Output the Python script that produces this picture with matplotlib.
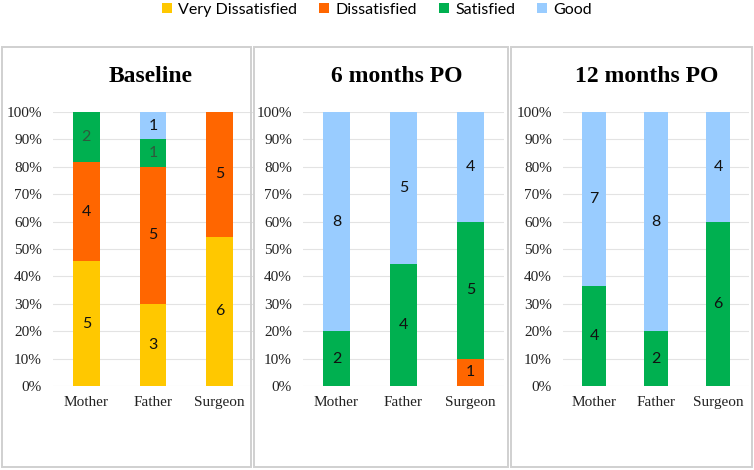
import matplotlib
matplotlib.use("Agg")
import matplotlib.pyplot as plt
import numpy as np
from matplotlib.patches import Rectangle, Patch

# --- data ---
groups = ["Mother", "Father", "Surgeon"]
series = ["Very Dissatisfied", "Dissatisfied", "Satisfied", "Good"]
titles = ["Baseline", "6 months PO", "12 months PO"]

# counts per series (rows) for Mother, Father, Surgeon (cols)
baseline = [[5, 3, 6], [4, 5, 5], [2, 1, 0], [0, 1, 0]]
months6 = [[0, 0, 0], [0, 0, 1], [2, 4, 5], [8, 5, 4]]
months12 = [[0, 0, 0], [0, 0, 0], [4, 2, 6], [7, 8, 4]]

colors = ["#FFC800", "#FF6600", "#00B050", "#99CCFF"]
yticks = np.arange(0, 1.01, 0.1)

W, H = 754, 470
fig = plt.figure(figsize=(W / 100, H / 100), dpi=100)

def px(l, t, r, b):
    return [l / W, 1 - b / H, (r - l) / W, (b - t) / H]

# panel frames (pixel boxes)
frames = [(2, 47, 251, 467), (254, 47, 508, 467), (511, 47, 752, 467)]
for l, t, r, b in frames:
    fig.add_artist(Rectangle((l / W, 1 - b / H), (r - l) / W, (b - t) / H,
                             transform=fig.transFigure, fill=False,
                             edgecolor="#D0D0D0", linewidth=1.4))

axes_boxes = [(53, 112, 253, 386), (303, 112, 504, 386), (563, 112, 749, 386)]
title_x = [151, 397, 647]

for i, counts in enumerate([baseline, months6, months12]):
    ax = fig.add_axes(px(*axes_boxes[i]))
    counts = np.array(counts, dtype=float)
    totals = counts.sum(axis=0)
    pct = counts / totals
    x = np.arange(len(groups))
    bottom = np.zeros(len(groups))
    for s in range(len(series)):
        ax.bar(x, pct[s], 0.4, bottom=bottom, color=colors[s], zorder=3)
        for j in range(len(groups)):
            if counts[s, j] > 0:
                tc = "#2F5A3C" if (i == 0 and s == 2) else "#111111"
                ax.text(x[j], bottom[j] + pct[s, j] / 2, f"{int(counts[s, j])}",
                        ha="center", va="center", fontsize=11.5,
                        family="Lato", color=tc, zorder=4)
        bottom += pct[s]
    ax.set_xlim(-0.5, len(groups) - 0.5)
    ax.set_ylim(0, 1)
    ax.set_yticks(yticks)
    ax.set_yticklabels([f"{int(round(v * 100))}%" for v in yticks],
                       family="Liberation Serif", fontsize=11, color="#222222")
    ax.set_xticks(x)
    ax.set_xticklabels(groups, family="Liberation Serif", fontsize=11, color="#222222")
    ax.tick_params(axis="y", length=0, pad=8)
    ax.tick_params(axis="x", length=0, pad=7)
    ax.grid(axis="y", color="#E3E3E3", linewidth=0.8, zorder=0)
    for sp in ax.spines.values():
        sp.set_visible(False)
    fig.text(title_x[i] / W, 1 - 76 / H, titles[i], ha="center", va="center",
             family="Liberation Serif", fontweight="bold", fontsize=17)

handles = [Patch(facecolor=c, edgecolor="none") for c in colors]
fig.legend(handles, series, loc="center", bbox_to_anchor=(0.5, 1 - 10 / H),
           ncol=4, frameon=False, prop={"family": "Lato", "size": 11.5},
           handlelength=0.6, handleheight=0.6, handletextpad=0.4,
           columnspacing=1.4, borderaxespad=0)

fig.savefig("out.png", dpi=100)
